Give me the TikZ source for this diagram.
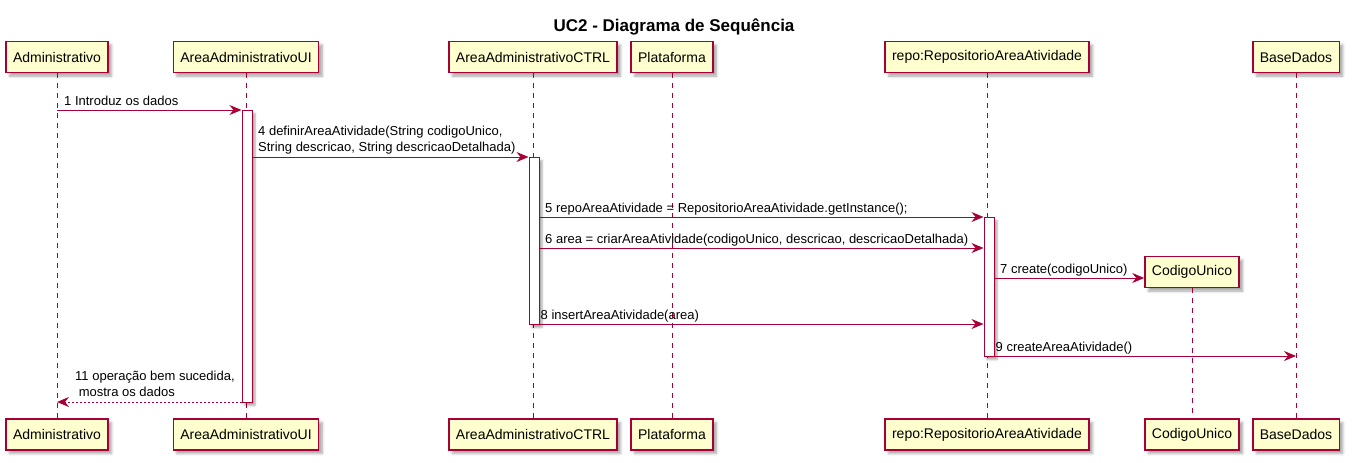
\documentclass[tikz,border=0pt]{standalone}
\usepackage{fontspec}
\setmainfont{Liberation Sans}
\usetikzlibrary{arrows.meta,shadows.blur}
\definecolor{pborder}{HTML}{A80036}
\definecolor{pfill}{HTML}{FEFECE}
\tikzset{
  part/.style={draw=pborder, fill=pfill, line width=1.4pt, minimum height=31pt,
    inner xsep=7pt, inner ysep=0pt, font=\fontsize{14}{16}\selectfont,
    blur shadow={shadow xshift=3.5pt, shadow yshift=-3.5pt, shadow blur radius=2.5pt, shadow opacity=35}},
  life/.style={draw=pborder, line width=0.9pt, dash pattern=on 5pt off 5pt},
  act/.style={draw=pborder, fill=white, line width=1pt, minimum width=10pt,
    inner sep=0pt, anchor=north,
    blur shadow={shadow xshift=3pt, shadow yshift=-3pt, shadow blur radius=2pt, shadow opacity=35}},
  msg/.style={draw=pborder, line width=1pt, -{Stealth[length=12pt,width=10pt,inset=4pt]}},
  ret/.style={msg, dash pattern=on 2pt off 2pt},
  lbl/.style={font=\fontsize{13}{16}\selectfont, inner sep=0pt, anchor=base west},
  mlbl/.style={font=\fontsize{13}{16}\selectfont, inner sep=0pt, anchor=south west, align=left},
}
\begin{document}
\begin{tikzpicture}[x=1pt,y=-1pt]
\useasboundingbox (0,0) rectangle (1352,463);
% title
\node[font=\fontsize{17}{20}\selectfont\bfseries, anchor=base, inner sep=0pt] (title) at (674,31) {UC2 - Diagrama de Sequência};
% participants top
\node[part] (aT) at (57,57) {Administrativo};
\node[part] (uT) at (246,57) {AreaAdministrativoUI};
\node[part] (cT) at (533,57) {AreaAdministrativoCTRL};
\node[part] (pT) at (672,57) {Plataforma};
\node[part] (rT) at (987,57) {repo:RepositorioAreaAtividade};
\node[part] (kT) at (1192,272) {CodigoUnico};
\node[part] (bT) at (1296,57) {BaseDados};
% participants bottom
\node[part] (aB) at (57,434.5) {Administrativo};
\node[part] (uB) at (246,434.5) {AreaAdministrativoUI};
\node[part] (cB) at (533,434.5) {AreaAdministrativoCTRL};
\node[part] (pB) at (672,434.5) {Plataforma};
\node[part] (rB) at (987,434.5) {repo:RepositorioAreaAtividade};
\node[part] (kB) at (1192,434.5) {CodigoUnico};
\node[part] (bB) at (1296,434.5) {BaseDados};
% lifelines
\draw[life] (aT.south) -- (aB.north);
\draw[life] (uT.south) -- (uB.north);
\draw[life] (cT.south) -- (cB.north);
\draw[life] (pT.south) -- (pB.north);
\draw[life] (rT.south) -- (rB.north);
\draw[life] (kT.south) -- (kB.north);
\draw[life] (bT.south) -- (bB.north);
% activations
\node[act, minimum height=292pt] (uA) at (247,110) {};
\node[act, minimum height=167pt] (cA) at (534,157) {};
\node[act, minimum height=139pt] (rA) at (989,217) {};
% message rows
\coordinate (m1) at (0,110);
\coordinate (m4) at (0,157);
\coordinate (m5) at (0,217);
\coordinate (m6) at (0,248);
\coordinate (m7) at (0,278);
\coordinate (m8) at (0,324);
\coordinate (m9) at (0,356);
\coordinate (m11) at (0,402);
% messages
\draw[msg] (aT.south |- m1) -- (uA.west |- m1);
\node[lbl] (l1) at (64,105) {1 Introduz os dados};
\draw[msg] (uA.east |- m4) -- (cA.west |- m4);
\node[mlbl] (l4) at (258,154.3) {4 definirAreaAtividade(String codigoUnico,\\String descricao, String descricaoDetalhada)};
\draw[msg] (cA.east |- m5) -- (rA.west |- m5);
\node[lbl] (l5) at (545,212.5) {5 repoAreaAtividade = RepositorioAreaAtividade.getInstance();};
\draw[msg] (cA.east |- m6) -- (rA.west |- m6);
\node[lbl] (l6) at (545,243.5) {6 area = criarAreaAtividade(codigoUnico, descricao, descricaoDetalhada)};
\draw[msg] (rA.east |- m7) -- (kT.west |- m7);
\node[lbl] (l7) at (1000,273.5) {7 create(codigoUnico)};
\draw[msg] (cA.east |- m8) -- (rA.west |- m8);
\node[lbl] (l8) at (540.5,319.5) {8 insertAreaAtividade(area)};
\draw[msg] (rA.east |- m9) -- (bT.south |- m9);
\node[lbl] (l9) at (995.5,351) {9 createAreaAtividade()};
\draw[ret] (uA.west |- m11) -- (aT.south |- m11);
\node[mlbl] (l11) at (75,397) {11 operação bem sucedida,\\\hspace*{3.6pt}mostra os dados};
\end{tikzpicture}
\end{document}
